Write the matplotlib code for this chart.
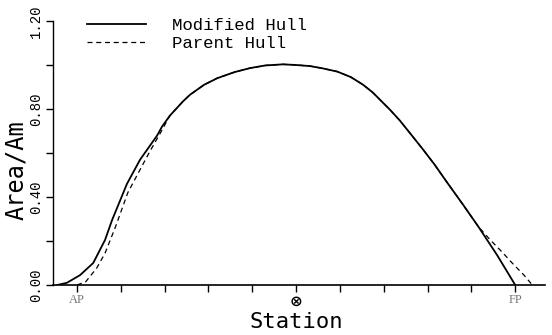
import matplotlib
matplotlib.use("Agg")
import matplotlib.pyplot as plt

# Modified hull (solid)
mod_station = [-0.45, -0.23, 0.07, 0.37, 0.64, 0.8, 1.14, 1.44, 1.83, 1.94, 2.12, 2.42,
               2.58, 2.9, 3.2, 3.6, 3.95, 4.3, 4.7, 5.0, 5.32, 5.6, 5.94, 6.25, 6.53,
               6.75, 6.95, 7.15, 7.37, 7.6, 7.9, 8.15, 8.45, 8.81, 9.16, 9.59, 10.0]
mod_area = [0.0, 0.01, 0.045, 0.10, 0.205, 0.295, 0.46, 0.57, 0.68, 0.72, 0.77, 0.835,
            0.865, 0.91, 0.94, 0.968, 0.986, 0.998, 1.003, 1.0, 0.995, 0.985, 0.97, 0.945, 0.91,
            0.875, 0.835, 0.795, 0.747, 0.69, 0.615, 0.55, 0.465, 0.365, 0.265, 0.135, 0.0]

# Parent hull (dashed)
par_station = [0.0, 0.2, 0.45, 0.64, 0.87, 1.16, 1.4, 1.67, 1.9, 2.12, 2.42,
               2.58, 2.9, 3.2, 3.6, 3.95, 4.3, 4.7, 5.0, 5.32, 5.6, 5.94, 6.25, 6.53,
               6.75, 6.95, 7.15, 7.37, 7.6, 7.9, 8.15, 8.45, 8.81, 9.16,
               9.43, 9.7, 9.93, 10.2, 10.39]
par_area = [0.0, 0.015, 0.077, 0.145, 0.26, 0.42, 0.51, 0.61, 0.69, 0.77, 0.835,
            0.865, 0.91, 0.94, 0.968, 0.986, 0.998, 1.003, 1.0, 0.995, 0.985, 0.97, 0.945, 0.91,
            0.875, 0.835, 0.795, 0.747, 0.69, 0.615, 0.55, 0.465, 0.365, 0.265,
            0.205, 0.15, 0.10, 0.045, 0.0]

x_ticks = list(range(0, 11))
x_tick_labels = ["AP", "", "", "", "", "\u2297", "", "", "", "", "FP"]
y_ticks = [0.0, 0.2, 0.4, 0.6, 0.8, 1.0, 1.2]
y_tick_labels = ["0.00", "", "0.40", "", "0.80", "", "1.20"]

fig = plt.figure(figsize=(5.52, 3.35), dpi=100)
ax = fig.add_axes([53 / 552, 1 - 285 / 335, (545 - 53) / 552, (285 - 21) / 335])

ax.plot(mod_station, mod_area, color="black", lw=1.3, linestyle="-", label="Modified Hull")
ax.plot(par_station, par_area, color="black", lw=0.9, linestyle=(0, (4, 3)), label="Parent Hull")

ax.set_xlim(-0.548, 10.68)
ax.set_ylim(0, 1.2)

for s in ("top", "right"):
    ax.spines[s].set_visible(False)
ax.spines["left"].set_linewidth(1.0)
ax.spines["bottom"].set_linewidth(1.2)

ax.set_xticks(x_ticks)
ax.set_xticklabels(x_tick_labels)
ax.set_yticks(y_ticks)
ax.set_yticklabels(y_tick_labels, rotation=90, va="center",
                   family="Liberation Mono", fontsize=10)
ax.tick_params(axis="both", direction="out", length=5, width=1.0, colors="black")
ax.tick_params(axis="y", pad=2)
ax.tick_params(axis="x", pad=1.5)
for lbl in ax.get_xticklabels():
    t = lbl.get_text()
    if t == "\u2297":
        lbl.set_fontsize(11)
        lbl.set_fontweight("bold")
        lbl.set_family("DejaVu Sans")
    else:
        lbl.set_fontsize(9)
        lbl.set_family("Liberation Serif")
        lbl.set_color("#777777")

fig.text(16 / 552, 1 - 170 / 335, "Area/Am", rotation=90, ha="center", va="center",
         fontsize=17, family="DejaVu Sans Mono")
fig.text(296 / 552, 1 - 322 / 335, "Station", ha="center", va="center",
         fontsize=16, family="DejaVu Sans Mono")

leg = ax.legend(loc="upper left", bbox_to_anchor=(87 / 552, 1 - 18 / 335),
                bbox_transform=fig.transFigure, frameon=False, borderpad=0,
                borderaxespad=0, handlelength=3.4, handletextpad=1.5,
                labelspacing=0.15, prop={"family": "Liberation Mono", "size": 12.5})

fig.savefig("out.png", dpi=100)
